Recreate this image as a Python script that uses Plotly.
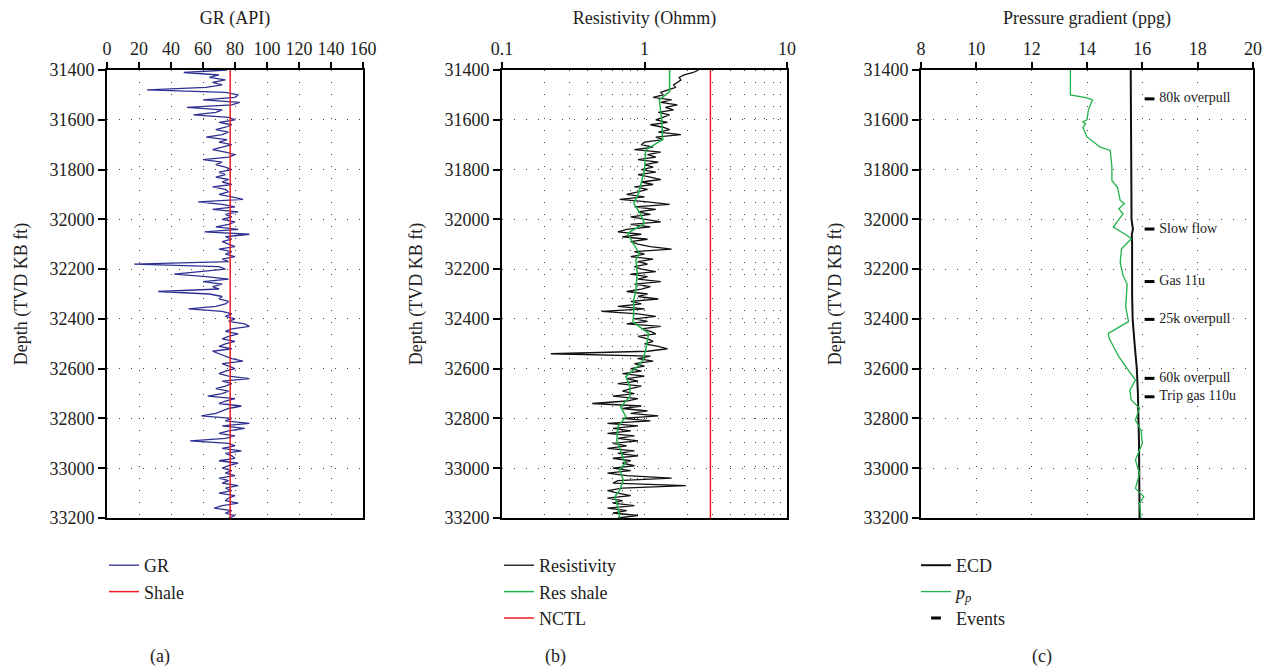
import plotly.graph_objects as go

FONT = "Liberation Serif"

# ---------------- data ----------------
depth_start = 31400
depth_step = 10

gr_api = [
    75, 48, 70, 64, 74, 66, 72, 62, 25, 74,
    82, 80, 60, 83, 78, 50, 72, 68, 54, 76,
    80, 70, 78, 74, 68, 76, 72, 62, 75, 70,
    78, 72, 66, 74, 80, 76, 60, 72, 68, 74,
    78, 70, 74, 68, 76, 72, 78, 66, 74, 76,
    70, 78, 85, 57, 72, 80, 66, 82, 74, 78,
    72, 80, 76, 68, 82, 61, 89, 74, 78, 72,
    76, 80, 70, 78, 74, 80, 72, 76, 17, 70,
    74, 58, 42, 62, 76, 60, 72, 66, 70, 32,
    64, 72, 70, 76, 74, 68, 51, 72, 78, 74,
    80, 76, 86, 89, 78, 74, 82, 76, 72, 80,
    74, 70, 78, 66, 70, 74, 78, 85, 72, 76,
    80, 74, 70, 76, 89, 72, 78, 74, 68, 76,
    72, 63, 80, 74, 70, 84, 76, 72, 68, 59,
    78, 74, 89, 72, 86, 76, 70, 80, 74, 52,
    76, 80, 72, 84, 74, 78, 80, 70, 82, 76,
    72, 78, 74, 80, 70, 76, 72, 82, 74, 78,
    70, 80, 76, 74, 82, 72, 67, 78, 74, 80,
    76,
]

resistivity = [
    2.4, 2.2, 1.9, 1.75, 1.8, 1.7, 1.6, 1.65, 1.45, 1.3,
    1.35, 1.15, 1.55, 1.3, 1.7, 1.4, 1.6, 1.25, 1.5, 1.35,
    1.2, 1.45, 1.1, 1.35, 1.5, 1.25, 1.8, 1.2, 1.35, 1.0,
    0.95, 1.15, 0.85, 1.3, 1.05, 1.2, 0.9, 1.25, 1.0, 1.15,
    0.95, 1.2, 0.9, 1.1, 1.3, 0.95, 1.15, 0.85, 1.05, 0.9,
    0.75, 1.0, 0.67, 1.05, 1.5, 0.85, 1.2, 0.9, 1.1, 0.8,
    1.0, 1.3, 0.8, 1.1, 0.75, 0.65, 0.95, 0.7, 1.05, 0.8,
    0.9, 1.1, 1.55, 0.85, 1.0, 0.8, 1.15, 0.9, 1.05, 0.85,
    0.95, 1.2, 0.8, 1.05, 0.9, 1.3, 0.85, 1.1, 0.95, 0.75,
    1.05, 0.9, 1.25, 0.8, 0.95, 0.65, 1.0, 0.5, 0.9, 1.2,
    0.85, 1.05, 0.75, 1.3, 0.95, 1.1, 1.2, 0.9, 1.05, 1.15,
    1.0, 1.25, 1.45, 1.05, 0.22, 1.1, 0.9, 1.15, 0.85, 1.0,
    0.8, 0.95, 0.7, 1.0, 0.75, 0.9, 0.65, 0.95, 0.8, 0.7,
    0.85, 0.6, 0.9, 0.75, 0.43, 0.95, 0.7, 1.05, 0.8, 1.25,
    0.7, 1.1, 0.55, 0.9, 0.6, 0.8, 0.55, 0.85, 0.65, 0.9,
    0.6, 0.75, 0.55, 0.85, 0.65, 0.9, 0.6, 0.8, 0.7, 0.85,
    0.6, 0.8, 0.55, 0.75, 1.55, 0.65, 0.6, 1.95, 0.7, 0.55,
    0.65, 0.8, 0.55, 0.7, 0.6, 0.85, 0.55, 0.75, 0.6, 0.9,
    0.65,
]

log_depth = [depth_start + i * depth_step for i in range(len(gr_api))]

shale_depth = [31400, 33200]
shale_gr = [77, 77]

res_shale_depth = [31400, 31487, 31520, 31600, 31680, 31721, 31801, 31895, 31935,
                   31975, 32016, 32056, 32096, 32136, 32163, 32217, 32284, 32324,
                   32378, 32411, 32431, 32458, 32512, 32565, 32592, 32632, 32672,
                   32713, 32753, 32793, 32833, 32887, 32940, 32980, 33007, 33047,
                   33088, 33114, 33155, 33200]
res_shale = [1.5, 1.5, 1.27, 1.32, 1.34, 1.02, 1.0, 0.91, 0.84,
             0.93, 1.0, 0.76, 0.83, 0.92, 0.87, 0.89, 0.87, 0.84,
             0.84, 0.83, 0.92, 1.07, 1.03, 0.98, 0.89, 0.74, 0.79,
             0.79, 0.68, 0.74, 0.65, 0.64, 0.69, 0.73, 0.67, 0.71,
             0.67, 0.62, 0.65, 0.67]

nctl_depth = [31400, 33200]
nctl = [2.9, 2.9]

ecd_depth = [31400, 31600, 31800, 32000, 32040, 32060, 32100, 32300, 32400,
             32500, 32600, 32700, 32900, 33200]
ecd = [15.58, 15.6, 15.6, 15.61, 15.66, 15.62, 15.63, 15.63, 15.65,
       15.72, 15.8, 15.84, 15.88, 15.9]

pp_depth = [31400, 31500, 31512, 31520, 31560, 31600, 31608, 31616, 31630, 31669,
            31710, 31723, 31790, 31844, 31871, 31924, 31937, 31958, 31978, 32031,
            32065, 32078, 32118, 32172, 32225, 32260, 32351, 32411, 32458, 32478,
            32552, 32619, 32646, 32686, 32726, 32759, 32806, 32847, 32900, 32967,
            33021, 33081, 33114, 33141, 33200]
pp = [13.4, 13.4, 14.0, 14.2, 14.05, 14.0, 13.85, 13.95, 13.85, 14.0,
      14.48, 14.84, 14.9, 14.9, 15.1, 15.2, 15.35, 15.15, 15.3, 14.95,
      15.45, 15.6, 15.25, 15.2, 15.3, 15.45, 15.4, 15.5, 14.77, 14.8,
      15.15, 15.6, 15.75, 15.55, 15.6, 15.9, 15.75, 15.95, 16.0, 15.75,
      15.9, 15.75, 16.05, 15.9, 15.95]

event_depth = [31516, 32039, 32250, 32402, 32639, 32713]
event_ppg = [16.26, 16.26, 16.26, 16.26, 16.26, 16.26]
event_labels = ["80k overpull", "Slow flow", "Gas 11u", "25k overpull",
                "60k overpull", "Trip gas 110u"]

gr_ticks = [0, 20, 40, 60, 80, 100, 120, 140, 160]
res_ticks = [0.1, 1, 10]
res_ticklabels = ["0.1", "1", "10"]
pg_ticks = [8, 10, 12, 14, 16, 18, 20]
depth_ticks = [31400, 31600, 31800, 32000, 32200, 32400, 32600, 32800, 33000, 33200]

# ---------------- figure ----------------
fig = go.Figure()

fig.add_trace(go.Scatter(x=gr_api, y=log_depth, mode="lines", name="GR",
                         line=dict(color="#2e3192", width=1.3),
                         xaxis="x", yaxis="y", legend="legend"))
fig.add_trace(go.Scatter(x=shale_gr, y=shale_depth, mode="lines", name="Shale",
                         line=dict(color="#ed1c24", width=1.5),
                         xaxis="x", yaxis="y", legend="legend"))

fig.add_trace(go.Scatter(x=resistivity, y=log_depth, mode="lines", name="Resistivity",
                         line=dict(color="#111111", width=1.3),
                         xaxis="x2", yaxis="y2", legend="legend2"))
fig.add_trace(go.Scatter(x=res_shale, y=res_shale_depth, mode="lines", name="Res shale",
                         line=dict(color="#22b24c", width=1.5),
                         xaxis="x2", yaxis="y2", legend="legend2"))
fig.add_trace(go.Scatter(x=nctl, y=nctl_depth, mode="lines", name="NCTL",
                         line=dict(color="#ed1c24", width=1.5),
                         xaxis="x2", yaxis="y2", legend="legend2"))

fig.add_trace(go.Scatter(x=ecd, y=ecd_depth, mode="lines", name="ECD",
                         line=dict(color="#111111", width=2.0),
                         xaxis="x3", yaxis="y3", legend="legend3"))
fig.add_trace(go.Scatter(x=pp, y=pp_depth, mode="lines", name="<i>p</i><sub><i>p</i></sub>",
                         line=dict(color="#22b24c", width=1.3),
                         xaxis="x3", yaxis="y3", legend="legend3"))
fig.add_trace(go.Scatter(x=event_ppg, y=event_depth, mode="markers", name="Events",
                         marker=dict(symbol="line-ew", size=7, color="black",
                                     line=dict(color="black", width=3)),
                         xaxis="x3", yaxis="y3", legend="legend3"))
fig.add_trace(go.Scatter(x=event_ppg, y=event_depth, mode="markers+text", text=event_labels,
                         textposition="middle right",
                         marker=dict(size=14, opacity=0, color="white"),
                         textfont=dict(family=FONT, size=14, color="#222"),
                         showlegend=False, hoverinfo="skip",
                         xaxis="x3", yaxis="y3"))

# reference pixel layout (page coordinates); the page body adds an 8px offset
OFF = 8
W, H = 1273 - OFF, 669 - OFF
TOP, BOT = 70 - OFF, 518 - OFF
ydom = [(H - BOT) / H, (H - TOP) / H]
tickfont = dict(family=FONT, size=18, color="#222")
titlefont = dict(family=FONT, size=18, color="#222")
GRID = dict(showgrid=True, gridcolor="#444", gridwidth=1, griddash="1px,11px")


def px_x(p):
    return (p - OFF) / W


def px_y(p):
    return (H - (p - OFF)) / H


def xax(dom_px, title, **kw):
    d = dict(domain=[px_x(dom_px[0]), px_x(dom_px[1])], side="top",
             showline=True, mirror=True, linecolor="black", linewidth=1.6,
             ticks="outside", ticklen=6, tickwidth=1.5, tickcolor="black",
             zeroline=False, tickangle=0, tickfont=tickfont,
             title=dict(text=title, font=titlefont, standoff=10),
             automargin=False)
    d.update(GRID)
    d.update(kw)
    return d


def yax(anchor, **kw):
    d = dict(domain=ydom, range=[33200, 31400], anchor=anchor,
             showline=True, mirror=True, linecolor="black", linewidth=1.6,
             ticks="outside", ticklen=7, tickwidth=1.5, tickcolor="black",
             tickvals=depth_ticks, tickformat="d", zeroline=False, tickfont=tickfont,
             title=dict(text="Depth (TVD KB ft)", font=titlefont, standoff=17),
             automargin=False)
    d.update(GRID)
    d.update(kw)
    return d


legend_common = dict(xanchor="left", yanchor="top", bgcolor="rgba(0,0,0,0)",
                     font=dict(family=FONT, size=18, color="#222"), tracegroupgap=0)
label_common = dict(xref="paper", yref="paper", showarrow=False,
                    xanchor="center", yanchor="middle",
                    font=dict(family=FONT, size=18, color="#222"))
fig.update_layout(
    width=W, height=H,
    margin=dict(l=0, r=0, t=0, b=0),
    paper_bgcolor="white", plot_bgcolor="white",
    font=dict(family=FONT, size=18, color="#222"),
    xaxis=xax((107, 363), "GR (API)", anchor="y", range=[0, 160], tickvals=gr_ticks),
    xaxis2=xax((502, 787), "Resistivity (Ohmm)", anchor="y2", type="log",
               range=[-1, 1], tickvals=res_ticks, ticktext=res_ticklabels,
               minor=dict(dtick="D1", showgrid=True, gridcolor="#444",
                          gridwidth=1, griddash="1px,11px", ticks="")),
    xaxis3=xax((921, 1253), "Pressure gradient (ppg)", anchor="y3", range=[8, 20],
               tickvals=pg_ticks),
    yaxis=yax("x"),
    yaxis2=yax("x2"),
    yaxis3=yax("x3"),
    showlegend=True,
    legend=dict(x=px_x(104), y=px_y(547), **legend_common),
    legend2=dict(x=px_x(499), y=px_y(547), **legend_common),
    legend3=dict(x=px_x(916), y=px_y(547), **legend_common),
    annotations=[
        dict(text="(a)", x=px_x(160), y=px_y(656), **label_common),
        dict(text="(b)", x=px_x(555), y=px_y(656), **label_common),
        dict(text="(c)", x=px_x(1042), y=px_y(656), **label_common),
    ],
)

fig.write_html("out.html")
